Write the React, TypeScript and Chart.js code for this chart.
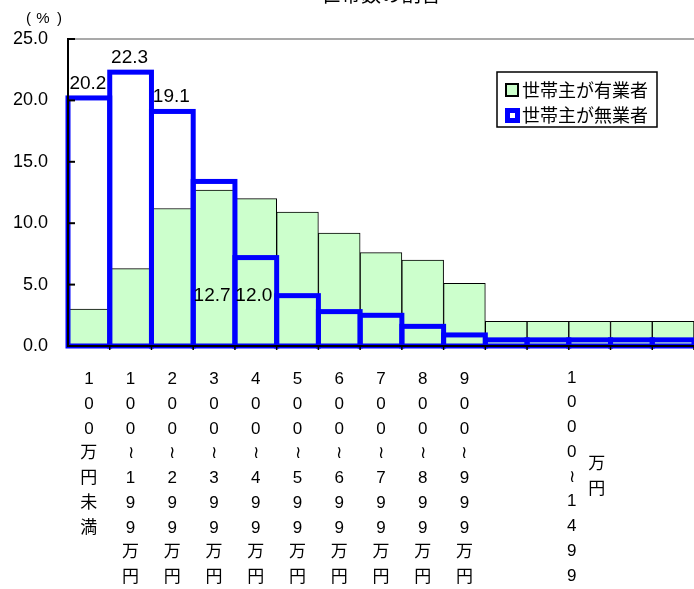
import React, { useEffect, useRef } from 'react';
import { Chart, registerables } from 'chart.js';

Chart.register(...registerables);

// ---- data ----
const categories = [
  '100万円未満', '100～199万円', '200～299万円', '300～399万円', '400～499万円',
  '500～599万円', '600～699万円', '700～799万円', '800～899万円', '900～999万円',
  '1000～1099万円', '1100～1199万円', '1200～1299万円', '1300～1399万円', '1400～1499万円',
];
const groupLabelHead = '1000～1499';
const groupLabelUnit = '万円';
const groupStart = 10;
const employedShare = [3.0, 6.3, 11.2, 12.7, 12.0, 10.9, 9.2, 7.6, 7.0, 5.1, 2.0, 2.0, 2.0, 2.0, 2.0];
const unemployedShare = [20.2, 22.3, 19.1, 13.4, 7.2, 4.1, 2.8, 2.5, 1.6, 0.9, 0.5, 0.5, 0.5, 0.5, 0.5];
const seriesNames = ['世帯主が有業者', '世帯主が無業者'];
const yTickValues = [0, 5, 10, 15, 20, 25];
const labeledUnemployed = [0, 1, 2];
const labeledEmployed = [3, 4];
const titleText = '世帯数の割合';

const FONT = "'Liberation Sans', Arial, 'Noto Sans CJK JP', sans-serif";
const CJK = "'Noto Sans CJK JP', 'Liberation Sans', sans-serif";
const GREEN = '#CCFFCC';
const BLUE = '#0000FF';
const X_LINE_H = 24.75;
const X_FONT = 17;
const X_PAD = 13;
const X_FIRST = 32; // offset of first label line centre below the axis

const vert = (s: string) => Array.from(s).map((c) => (c === '～' ? '≀' : c));

const overlay = {
  id: 'overlay',
  afterDatasetsDraw(chart: any) {
    const ctx = chart.ctx;
    const { left, right, top, bottom } = chart.chartArea;
    const yS = chart.scales.y;
    const line = (x1: number, y1: number, x2: number, y2: number) => {
      ctx.beginPath();
      ctx.moveTo(x1, y1);
      ctx.lineTo(x2, y2);
      ctx.stroke();
    };
    ctx.save();
    ctx.strokeStyle = '#8c8c8c';
    ctx.lineWidth = 1.5;
    line(left, top, right, top);
    const meta = chart.getDatasetMeta(1);
    ctx.strokeStyle = BLUE;
    ctx.lineWidth = 5;
    ctx.lineJoin = 'miter';
    meta.data.forEach((el: any) => {
      const p = el.getProps(['x', 'y', 'base', 'width'], true);
      ctx.strokeRect(p.x - p.width / 2, p.y, p.width, p.base - p.y);
    });
    ctx.strokeStyle = '#000';
    ctx.lineWidth = 2;
    line(left, top - 1, left, bottom + 1);
    line(left - 1, bottom, right, bottom);
    yTickValues.forEach((v) => {
      const py = yS.getPixelForValue(v);
      line(left, py, left + 7, py);
    });
    ctx.lineWidth = 1.5;
    meta.data.forEach((el: any) => {
      const p = el.getProps(['x', 'width'], true);
      const bx = p.x + p.width / 2;
      line(bx, bottom, bx, bottom + 4);
    });
    ctx.restore();
  },
  afterDraw(chart: any) {
    const ctx = chart.ctx;
    const { left, right, top, bottom } = chart.chartArea;
    const xS = chart.scales.x;
    const yS = chart.scales.y;
    ctx.save();
    ctx.fillStyle = '#000';
    ctx.font = `19px ${FONT}`;
    ctx.textAlign = 'center';
    ctx.textBaseline = 'alphabetic';
    const m1 = chart.getDatasetMeta(1);
    labeledUnemployed.forEach((i) => {
      const el = m1.data[i];
      ctx.fillText(unemployedShare[i].toFixed(1), el.x - 1, el.y - 9);
    });
    const m0 = chart.getDatasetMeta(0);
    labeledEmployed.forEach((i) => {
      const el = m0.data[i];
      ctx.fillText(employedShare[i].toFixed(1), el.x - 2, yS.getPixelForValue(3.65));
    });
    // group label for 1000~1499
    const gx = (xS.getPixelForValue(groupStart) + xS.getPixelForValue(categories.length - 1)) / 2;
    const firstY = bottom + X_FIRST;
    ctx.font = `${X_FONT}px ${FONT}`;
    ctx.textBaseline = 'middle';
    vert(groupLabelHead).forEach((c, i) => {
      ctx.fillText(c, gx - 18, firstY + i * X_LINE_H);
    });
    vert(groupLabelUnit).forEach((c, i) => {
      ctx.fillText(c, gx + 7, firstY + (3.5 + i) * X_LINE_H);
    });
    // title & unit
    ctx.font = `20px ${CJK}`;
    ctx.textBaseline = 'alphabetic';
    ctx.fillText(titleText, (left + right) / 2, 2);
    ctx.font = `15px ${FONT}`;
    ctx.fillText('(', 28.5, 23);
    ctx.fillText('%', 43, 23);
    ctx.fillText(')', 59.5, 23);
    // legend
    const lx = right - 197;
    const ly = top + 33;
    const lw = 160;
    const lh = 55;
    ctx.fillStyle = '#fff';
    ctx.fillRect(lx, ly, lw, lh);
    ctx.strokeStyle = '#000';
    ctx.lineWidth = 1.5;
    ctx.strokeRect(lx, ly, lw, lh);
    ctx.fillStyle = GREEN;
    ctx.fillRect(lx + 9, ly + 12, 12, 12);
    ctx.strokeStyle = '#000';
    ctx.lineWidth = 2;
    ctx.strokeRect(lx + 9, ly + 12, 12, 12);
    ctx.fillStyle = BLUE;
    ctx.fillRect(lx + 8, ly + 36, 15, 15);
    ctx.fillStyle = '#fff';
    ctx.fillRect(lx + 13, ly + 41, 5, 5);
    ctx.fillStyle = '#000';
    ctx.font = `18px ${CJK}`;
    ctx.textAlign = 'left';
    ctx.textBaseline = 'middle';
    ctx.fillText(seriesNames[0], lx + 25, ly + 18);
    ctx.fillText(seriesNames[1], lx + 25, ly + 43);
    ctx.restore();
  },
};

export default function App() {
  const ref = useRef<HTMLCanvasElement | null>(null);
  useEffect(() => {
    if (!ref.current) return;
    const chart = new Chart(ref.current, {
      type: 'bar',
      data: {
        labels: categories,
        datasets: [
          {
            label: seriesNames[0],
            data: employedShare,
            backgroundColor: GREEN,
            borderColor: '#000',
            borderWidth: 1,
            borderSkipped: 'start',
            grouped: false,
            barPercentage: 1,
            categoryPercentage: 1,
          },
          {
            label: seriesNames[1],
            data: unemployedShare,
            backgroundColor: 'rgba(0,0,0,0)',
            borderWidth: 0,
            grouped: false,
            barPercentage: 1,
            categoryPercentage: 1,
          },
        ],
      },
      options: {
        responsive: false,
        animation: false,
        devicePixelRatio: 1,
        layout: { padding: { top: 39, left: 0, right: 0, bottom: 0 } },
        plugins: { legend: { display: false }, tooltip: { enabled: false }, title: { display: false } },
        scales: {
          x: {
            grid: { display: false },
            border: { display: false },
            ticks: {
              autoSkip: false,
              maxRotation: 0,
              minRotation: 0,
              padding: X_PAD,
              color: '#000',
              font: { family: FONT, size: X_FONT, lineHeight: X_LINE_H / X_FONT },
              callback: function (this: any, value: any, index: number) {
                if (index >= groupStart) return '';
                return vert(this.getLabelForValue(value));
              },
            },
            afterFit: (s: any) => {
              s.height = 243;
            },
          },
          y: {
            min: 0,
            max: 25,
            grid: { display: false },
            border: { display: false },
            ticks: {
              stepSize: 5,
              padding: 12,
              color: '#000',
              font: { family: FONT, size: 18 },
              callback: (v: any) => Number(v).toFixed(1),
            },
            afterFit: (s: any) => {
              s.width = 68;
            },
          },
        },
      },
      plugins: [overlay],
    });
    return () => chart.destroy();
  }, []);
  return (
    <div style={{ position: 'fixed', left: 0, top: 0, width: 694, height: 589, background: '#fff' }}>
      <canvas ref={ref} width={694} height={589} style={{ width: 694, height: 589, display: 'block' }} />
    </div>
  );
}
